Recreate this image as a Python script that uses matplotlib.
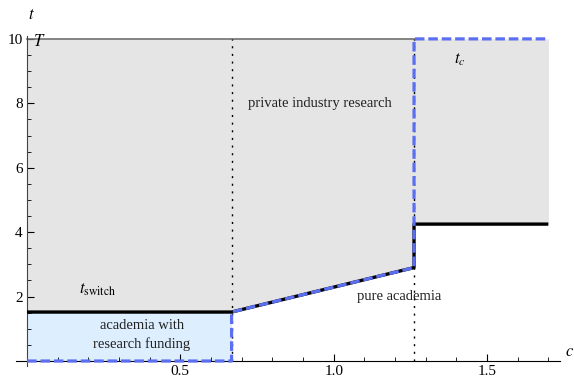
import numpy as np
import matplotlib.pyplot as plt
from matplotlib.ticker import MultipleLocator

plt.rcParams['font.family'] = ['Liberation Serif', 'DejaVu Serif']
plt.rcParams['mathtext.fontset'] = 'stix'

# regime boundaries
T = 10.0
c_fund = 0.667      # end of research funding regime
c_jump = 1.262      # switch to pure academia
c_max = 1.7

# switching time t_switch(c)
switch_c = [0.0, 0.667, 1.262, 1.262, 1.7]
switch_t = [1.52, 1.52, 2.9, 4.25, 4.25]

# career time t_c(c)
tc_c = [0.0, 0.667, 0.667, 1.262, 1.262, 1.7]
tc_t = [0.0, 0.0, 1.52, 2.9, 10.0, 10.0]

fig = plt.figure(figsize=(5.74, 3.79), dpi=100)
ax = fig.add_axes([16 / 574, 1 - 366 / 379, (560 - 16) / 574, (366 - 36) / 379])
ax.set_xlim(-0.036, 1.738)
ax.set_ylim(-0.155, 10.09)

# shaded regions
ax.fill_between(switch_c, switch_t, T, color='#e5e5e5', lw=0, zorder=1)
ax.fill_between([0, c_fund], [0, 0], [1.52, 1.52], color='#ddeeff', lw=0, zorder=1)

# T line
ax.plot([0, c_jump], [T, T], color='#707070', lw=1.2, zorder=2)

# regime dividers
ax.plot([c_fund, c_fund], [0, T], color='black', lw=1.0, ls=(0, (1.5, 4)), zorder=2)
ax.plot([c_jump, c_jump], [0, T], color='black', lw=1.0, ls=(0, (1.5, 4)), zorder=2)

ax.plot(switch_c, switch_t, color='black', lw=2.4, zorder=3,
        solid_capstyle='butt')
ax.plot(tc_c, tc_t, color='#5b6ff0', lw=2.3, ls=(0, (3.0, 1.2)), zorder=4,
        dash_capstyle='butt')

# axes through the origin
for side in ['top', 'right']:
    ax.spines[side].set_visible(False)
ax.spines['left'].set_position(('data', 0))
ax.spines['bottom'].set_position(('data', 0))
ax.spines['left'].set_color('#444444')
ax.spines['bottom'].set_color('black')
ax.set_facecolor('none')

ax.set_xticks([0.5, 1.0, 1.5])
ax.set_xticklabels(['0.5', '1.0', '1.5'])
ax.set_yticks([2, 4, 6, 8, 10])
ax.xaxis.set_minor_locator(MultipleLocator(0.1))
ax.yaxis.set_minor_locator(MultipleLocator(0.5))
ax.tick_params(which='major', direction='in', length=5, width=0.8, labelsize=11, pad=3)
ax.tick_params(which='minor', direction='in', length=3, width=0.6)

# annotations
tx = dict(fontsize=10.5, color='#222222')
ax.text(0.02, T - 0.1, '$T$', fontsize=12, ha='left', va='center')
ax.text(0.23, 2.2, r'$t_{\mathrm{switch}}$', fontsize=12, ha='center', va='center')
ax.text(0.375, 0.8, 'academia with\nresearch funding', ha='center', va='center',
        linespacing=1.5, **tx)
ax.text(0.955, 8.0, 'private industry research', ha='center', va='center', **tx)
ax.text(1.41, 9.35, '$t_c$', fontsize=12, ha='center', va='center')
ax.text(1.215, 2.0, 'pure academia', ha='center', va='center', **tx)

fig.text(28 / 574, 1 - 15 / 379, '$t$', fontsize=12, ha='left', va='center')
fig.text(565 / 574, 1 - 352 / 379, '$c$', fontsize=12, ha='left', va='center')

fig.savefig('out.png', dpi=100)
